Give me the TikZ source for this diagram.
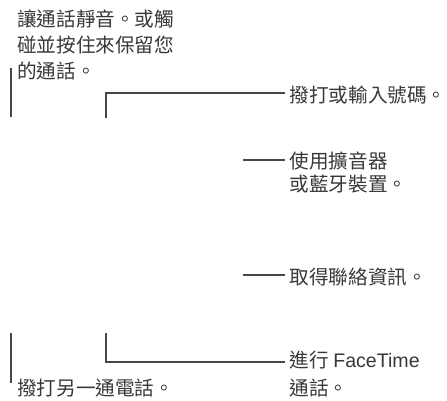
\documentclass[tikz,border=0pt]{standalone}
\usepackage{fontspec}
\setmainfont{Noto Sans CJK TC}
\newfontfamily\latinfont{Liberation Sans}
\usepackage{tikz}

\begin{document}
\begin{tikzpicture}[x=1pt,y=-1pt,
  callout/.style={anchor=base west,inner sep=0pt,align=left,
    text=black!78,font=\fontsize{19.6}{26}\selectfont},
  leader/.style={black!72,line width=1.3pt},
  totext/.style={leader,shorten >=5pt}]
\useasboundingbox (0,0) rectangle (447,400);
\node[callout] (mute) at (17,78.7) {讓通話靜音。或觸\\碰並按住來保留您\\的通話。};
\node[callout] (dial) at (289.5,102.7) {撥打或輸入號碼。};
\node[callout,font=\fontsize{19.6}{23}\selectfont] (speaker) at (289.5,191.7) {使用擴音器\\或藍牙裝置。};
\node[callout] (contact) at (289.5,284.7) {取得聯絡資訊。};
\node[callout,font=\fontsize{19.6}{28}\selectfont] (facetime) at (289.5,395.7) {進行 {\latinfont FaceTime}\\通話。};
\node[callout] (addcall) at (17,395.7) {撥打另一通電話。};
\coordinate (mutetop) at (11,68);
\coordinate (mutebot) at (11,117);
\coordinate (dialcorner) at (106,93);
\coordinate (dialend) at (106,118);
\coordinate (speakerend) at (243,160);
\coordinate (contactend) at (243,275);
\coordinate (ftend) at (106,333);
\coordinate (ftcorner) at (106,362);
\coordinate (addtop) at (11,333);
\coordinate (addbot) at (11,383);
\draw[leader] (mutetop) -- (mutebot);
\draw[totext] (dialend) -- (dialcorner) -- (dialcorner -| dial.west);
\draw[totext] (speakerend) -- (speakerend -| speaker.west);
\draw[totext] (contactend) -- (contactend -| contact.west);
\draw[totext] (ftend) -- (ftcorner) -- (ftcorner -| facetime.west);
\draw[leader] (addtop) -- (addbot);
\end{tikzpicture}
\end{document}
